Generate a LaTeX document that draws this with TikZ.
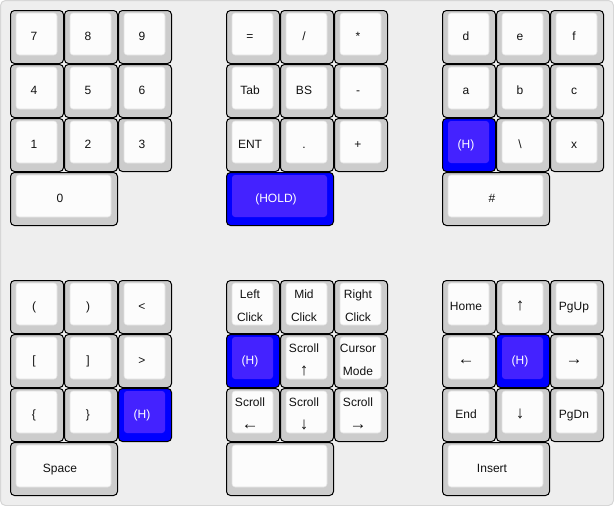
\documentclass[tikz,border=0pt]{standalone}
\usepackage{fontspec}
\setmainfont{Liberation Sans}
\definecolor{bgc}{HTML}{EEEEEE}
\definecolor{bgline}{HTML}{D6D6D6}
\definecolor{keygray}{HTML}{CCCCCC}
\definecolor{keywhite}{HTML}{FCFCFC}
\definecolor{innerline}{HTML}{E2E2E2}
\definecolor{holdout}{HTML}{0000FF}
\definecolor{holdin}{HTML}{4422FF}
\definecolor{txt}{HTML}{111111}
\newcommand\arw[1]{{\fontsize{17}{17}\selectfont #1}}
% key: name, x, y, width, kind (w/b), label
\newcommand\K[6]{%
  \draw[#5o] (#2+0.5,#3+0.5) rectangle (#2+#4-0.5,#3+53.5);
  \draw[#5i] (#2+6,#3+3) rectangle (#2+#4-7,#3+45);
  \node[#5t] (#1) at (#2+#4/2-2-#4/54,#3+30.5) {#6};
}
% two-line key: name, x, y, width, kind, line1, line2
\newcommand\KK[7]{%
  \draw[#5o] (#2+0.5,#3+0.5) rectangle (#2+#4-0.5,#3+53.5);
  \draw[#5i] (#2+6,#3+3) rectangle (#2+#4-7,#3+45);
  \node[#5t] (#1a) at (#2+#4/2-3,#3+18.5) {#6};
  \node[#5t] (#1b) at (#2+#4/2-3,#3+41.5) {#7};
}
\begin{document}
\begin{tikzpicture}[x=1pt,y=-1pt,
  wo/.style={fill=keygray,draw=black,line width=1pt,rounded corners=4pt},
  wi/.style={fill=keywhite,draw=innerline,line width=0.6pt,rounded corners=3pt},
  wt/.style={anchor=base,inner sep=0pt,text=txt,font=\fontsize{12}{14}\selectfont},
  bo/.style={fill=holdout,draw=black,line width=1pt,rounded corners=4pt},
  bi/.style={fill=holdin,draw=none,rounded corners=3pt},
  bt/.style={anchor=base,inner sep=0pt,text=white,font=\fontsize{12}{14}\selectfont}]
\useasboundingbox (0,0) rectangle (614,506);
\draw[fill=bgc,draw=bgline,line width=1pt,rounded corners=5pt] (0.5,0.5) rectangle (613.5,505.5);
% top-left block
\K{k7}{10}{10}{54}{w}{7}
\K{k8}{64}{10}{54}{w}{8}
\K{k9}{118}{10}{54}{w}{9}
\K{k4}{10}{64}{54}{w}{4}
\K{k5}{64}{64}{54}{w}{5}
\K{k6}{118}{64}{54}{w}{6}
\K{k1}{10}{118}{54}{w}{1}
\K{k2}{64}{118}{54}{w}{2}
\K{k3}{118}{118}{54}{w}{3}
\K{k0}{10}{172}{108}{w}{0}
% top-middle block
\K{keq}{226}{10}{54}{w}{=}
\K{kdiv}{280}{10}{54}{w}{/}
\K{kmul}{334}{10}{54}{w}{*}
\K{ktab}{226}{64}{54}{w}{Tab}
\K{kbs}{280}{64}{54}{w}{BS}
\K{kmin}{334}{64}{54}{w}{-}
\K{kent}{226}{118}{54}{w}{ENT}
\K{kdot}{280}{118}{54}{w}{.}
\K{kplus}{334}{118}{54}{w}{+}
\K{khold}{226}{172}{108}{b}{(HOLD)}
% top-right block
\K{kd}{442}{10}{54}{w}{d}
\K{ke}{496}{10}{54}{w}{e}
\K{kf}{550}{10}{54}{w}{f}
\K{ka}{442}{64}{54}{w}{a}
\K{kb}{496}{64}{54}{w}{b}
\K{kc}{550}{64}{54}{w}{c}
\K{khr}{442}{118}{54}{b}{(H)}
\K{kbsl}{496}{118}{54}{w}{\textbackslash}
\K{kx}{550}{118}{54}{w}{x}
\K{khash}{442}{172}{108}{w}{\#}
% bottom-left block
\K{klp}{10}{280}{54}{w}{(}
\K{krp}{64}{280}{54}{w}{)}
\K{klt}{118}{280}{54}{w}{<}
\K{klb}{10}{334}{54}{w}{[}
\K{krb}{64}{334}{54}{w}{]}
\K{kgt}{118}{334}{54}{w}{>}
\K{klc}{10}{388}{54}{w}{\{}
\K{krc}{64}{388}{54}{w}{\}}
\K{khl}{118}{388}{54}{b}{(H)}
\K{kspace}{10}{442}{108}{w}{Space}
% bottom-middle block
\KK{klclick}{226}{280}{54}{w}{Left}{Click}
\KK{kmclick}{280}{280}{54}{w}{Mid}{Click}
\KK{krclick}{334}{280}{54}{w}{Right}{Click}
\K{khm}{226}{334}{54}{b}{(H)}
\KK{ksup}{280}{334}{54}{w}{Scroll}{\arw{↑}}
\KK{kcur}{334}{334}{54}{w}{Cursor}{Mode}
\KK{ksleft}{226}{388}{54}{w}{Scroll}{\arw{←}}
\KK{ksdown}{280}{388}{54}{w}{Scroll}{\arw{↓}}
\KK{ksright}{334}{388}{54}{w}{Scroll}{\arw{→}}
\K{kblank}{226}{442}{108}{w}{}
% bottom-right block
\K{khome}{442}{280}{54}{w}{Home}
\K{kup}{496}{280}{54}{w}{\arw{↑}}
\K{kpgup}{550}{280}{54}{w}{PgUp}
\K{kleft}{442}{334}{54}{w}{\arw{←}}
\K{khb}{496}{334}{54}{b}{(H)}
\K{kright}{550}{334}{54}{w}{\arw{→}}
\K{kend}{442}{388}{54}{w}{End}
\K{kdown}{496}{388}{54}{w}{\arw{↓}}
\K{kpgdn}{550}{388}{54}{w}{PgDn}
\K{kins}{442}{442}{108}{w}{Insert}
\end{tikzpicture}
\end{document}
